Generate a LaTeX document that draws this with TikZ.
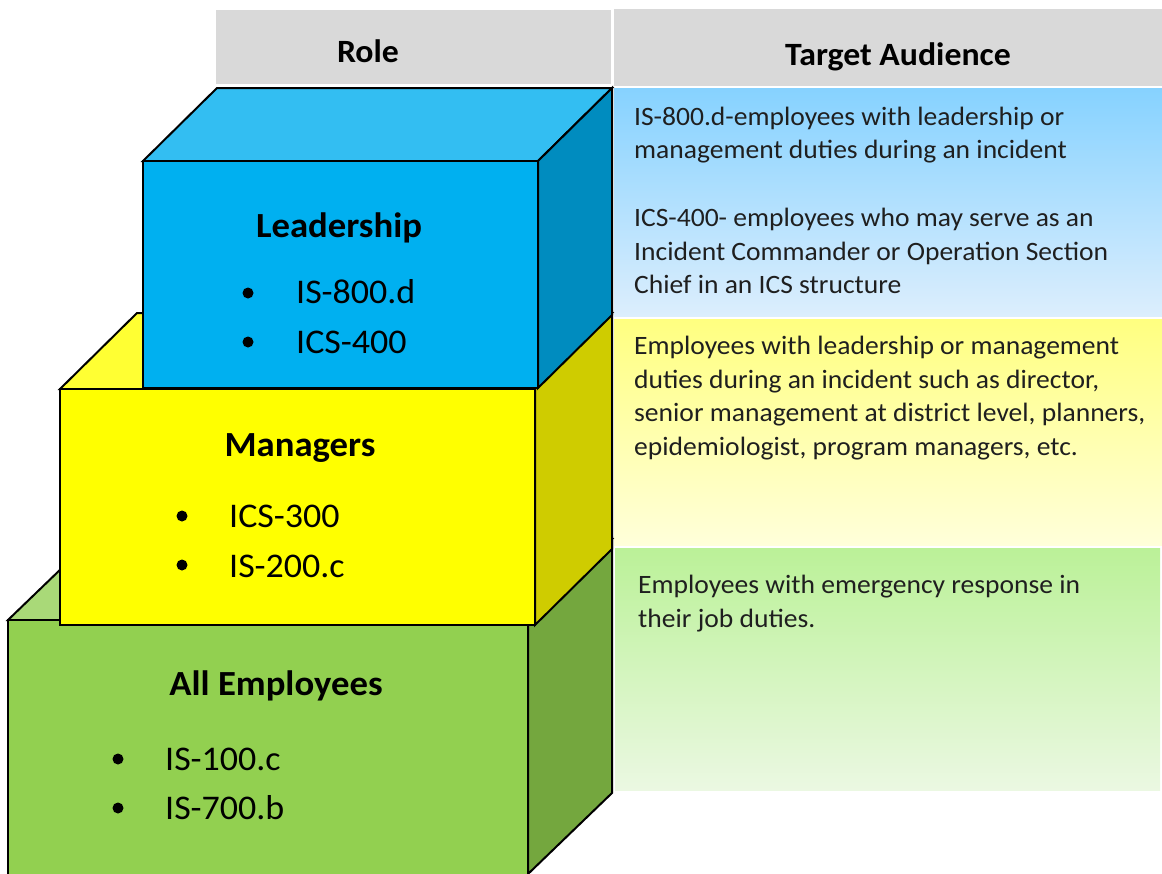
\documentclass[tikz,border=0pt]{standalone}
\usepackage{fontspec}
\setmainfont{Carlito}[FakeStretch=1.04]
\definecolor{hdrgray}{HTML}{D9D9D9}
\definecolor{bluefront}{HTML}{00B0F0}
\definecolor{bluetop}{HTML}{33BEF2}
\definecolor{blueside}{HTML}{008CBF}
\definecolor{yelfront}{HTML}{FFFF00}
\definecolor{yeltop}{HTML}{FFFF33}
\definecolor{yelside}{HTML}{CFCC00}
\definecolor{grnfront}{HTML}{92D050}
\definecolor{grntop}{HTML}{A9D978}
\definecolor{grnside}{HTML}{74A73E}
\definecolor{pbluetop}{HTML}{86D2FF}
\definecolor{pbluebot}{HTML}{DCEEFD}
\definecolor{pyeltop}{HTML}{FFFF80}
\definecolor{pyelbot}{HTML}{FFFFDA}
\definecolor{pgrntop}{HTML}{BBF198}
\definecolor{pgrnbot}{HTML}{EBF8E2}
\begin{document}
\begin{tikzpicture}[x=1pt,y=-1pt,
  face/.style={draw=black,line width=2pt},
  lbl/.style={anchor=base,inner sep=0pt,font=\fontsize{35.3}{40}\selectfont\bfseries},
  item/.style={anchor=base west,inner sep=0pt,font=\fontsize{34.6}{40}\selectfont},
  ptxt/.style={anchor=base west,inner sep=0pt,font=\fontsize{26.5}{30}\selectfont,text=black!88},
  hdr/.style={anchor=base,inner sep=0pt,font=\fontsize{32.5}{36}\selectfont\bfseries}]
\useasboundingbox (0,0) rectangle (1162,873);
\clip (0,0) rectangle (1162,873);
% header cells
\fill[hdrgray] (216,10) rectangle (611,84);
\fill[hdrgray] (614,9) rectangle (1162,86);
\node[hdr] (hrole) at (368,62) {Role};
\node[hdr] (htarget) at (898,65) {Target Audience};
% right panels
\shade[top color=pbluetop,bottom color=pbluebot] (614,88) rectangle (1162,316);
\shade[top color=pyeltop,bottom color=pyelbot] (614,319) rectangle (1162,545);
\shade[top color=pgrntop,bottom color=pgrnbot] (615,548) rectangle (1160,790);
% green cuboid
\filldraw[face,fill=grntop] (8,620) -- (92,539) -- (612,539) -- (528,620) -- cycle;
\filldraw[face,fill=grnside] (528,620) -- (612,539) -- (612,793) -- (528,874) -- cycle;
\filldraw[face,fill=grnfront] (8,620) rectangle (528,880);
% yellow cuboid
\filldraw[face,fill=yeltop] (60,389) -- (137,313) -- (612,313) -- (535,389) -- cycle;
\filldraw[face,fill=yelside] (535,389) -- (612,313) -- (612,549) -- (535,625) -- cycle;
\filldraw[face,fill=yelfront] (60,389) rectangle (535,625);
% blue cuboid
\filldraw[face,fill=bluetop] (143,161) -- (217,88) -- (612,88) -- (538,161) -- cycle;
\filldraw[face,fill=blueside] (538,161) -- (612,88) -- (612,315) -- (538,388) -- cycle;
\filldraw[face,fill=bluefront] (143,161) rectangle (538,388);
% box labels
\node[lbl] (lead) at (339,237) {Leadership};
\fill (248,293) circle[radius=5.5pt];
\node[item] (l1) at (296,303) {IS-800.d};
\fill (248,342) circle[radius=5.5pt];
\node[item] (l2) at (296,353) {ICS-400};
\node[lbl] (mgr) at (300,456) {Managers};
\fill (182,516) circle[radius=5.5pt];
\node[item] (m1) at (229,527) {ICS-300};
\fill (182,565) circle[radius=5.5pt];
\node[item] (m2) at (229,577) {IS-200.c};
\node[lbl] (all) at (276,695) {All Employees};
\fill (118,759) circle[radius=5.5pt];
\node[item] (a1) at (165,770) {IS-100.c};
\fill (118,808) circle[radius=5.5pt];
\node[item] (a2) at (165,819) {IS-700.b};
% panel texts
\node[ptxt] (t1) at (634,125) {IS-800.d-employees with leadership or};
\node[ptxt] (t2) at (634,158) {management duties during an incident};
\node[ptxt] (t3) at (634,226) {ICS-400- employees who may serve as an};
\node[ptxt] (t4) at (634,260) {Incident Commander or Operation Section};
\node[ptxt] (t5) at (634,293) {Chief in an ICS structure};
\node[ptxt] (t6) at (634,354) {Employees with leadership or management};
\node[ptxt] (t7) at (634,388) {duties during an incident such as director,};
\node[ptxt] (t8) at (634,421) {senior management at district level, planners,};
\node[ptxt] (t9) at (634,455) {epidemiologist, program managers, etc.};
\node[ptxt] (t10) at (638,593) {Employees with emergency response in};
\node[ptxt] (t11) at (638,627) {their job duties.};
\end{tikzpicture}
\end{document}
